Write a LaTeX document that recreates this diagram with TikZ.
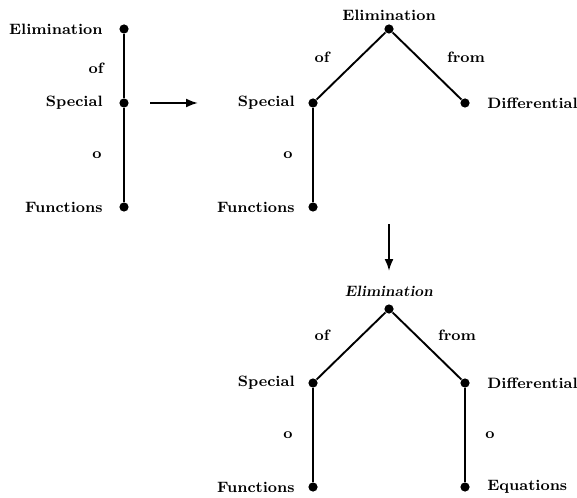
\documentclass[tikz,border=0pt]{standalone}
\usetikzlibrary{arrows.meta}
\begin{document}
\begin{tikzpicture}[x=0.5pt,y=-0.5pt,
  dot/.style={circle,fill=black,inner sep=0pt,minimum size=4.6pt},
  lbl/.style={inner sep=0pt,font=\fontsize{7.5}{9}\selectfont\bfseries},
  edge/.style={line width=0.95pt},
  flow/.style={line width=1pt,-{Latex[length=6pt,width=4.5pt]}}]
\useasboundingbox (0,0) rectangle (577,497);

% first tree: a single chain
\node[dot] (a1) at (124,29) {};
\node[dot] (a2) at (124,103) {};
\node[dot] (a3) at (124,207) {};
\draw[edge] (a1) -- (a2) -- (a3);
\node[lbl,anchor=east] (a1t) at (103,29) {Elimination};
\node[lbl] (a12t) at (96,68) {of};
\node[lbl,anchor=east] (a2t) at (103,103) {Special};
\node[lbl] (a23t) at (97,155) {o};
\node[lbl,anchor=east] (a3t) at (103,207) {Functions};

% second tree
\node[dot] (b1) at (389,29) {};
\node[dot] (b2) at (313,103) {};
\node[dot] (b3) at (465,103) {};
\node[dot] (b4) at (313,207) {};
\draw[edge] (b2) -- (b1) -- (b3);
\draw[edge] (b2) -- (b4);
\node[lbl] (b1t) at (389,15) {Elimination};
\node[lbl] (b12t) at (322,57) {of};
\node[lbl] (b13t) at (466,57) {from};
\node[lbl,anchor=east] (b2t) at (295,103) {Special};
\node[lbl,anchor=west] (b3t) at (487,103) {Differential};
\node[lbl] (b24t) at (288,155) {o};
\node[lbl,anchor=east] (b4t) at (295,207) {Functions};

% third tree
\node[dot] (c1) at (389,309) {};
\node[dot] (c2) at (313,383) {};
\node[dot] (c3) at (465,383) {};
\node[dot] (c4) at (313,487) {};
\node[dot] (c5) at (465,487) {};
\draw[edge] (c2) -- (c1) -- (c3);
\draw[edge] (c2) -- (c4);
\draw[edge] (c3) -- (c5);
\node[lbl,font=\fontsize{7.5}{9}\selectfont\bfseries\slshape] (c1t) at (389,291) {Elimination};
\node[lbl] (c12t) at (322,335) {of};
\node[lbl] (c13t) at (457,335) {from};
\node[lbl,anchor=east] (c2t) at (295,383) {Special};
\node[lbl,anchor=west] (c3t) at (487,383) {Differential};
\node[lbl] (c24t) at (288,435) {o};
\node[lbl] (c35t) at (490,435) {o};
\node[lbl,anchor=east] (c4t) at (295,487) {Functions};
\node[lbl,anchor=west] (c5t) at (487,487) {Equations};

% transformation arrows
\coordinate (r0) at (150,103);
\coordinate (r1) at (198,103);
\coordinate (d0) at (389,224);
\coordinate (d1) at (389,271);
\draw[flow] (r0) -- (r1);
\draw[flow] (d0) -- (d1);
\end{tikzpicture}
\end{document}
